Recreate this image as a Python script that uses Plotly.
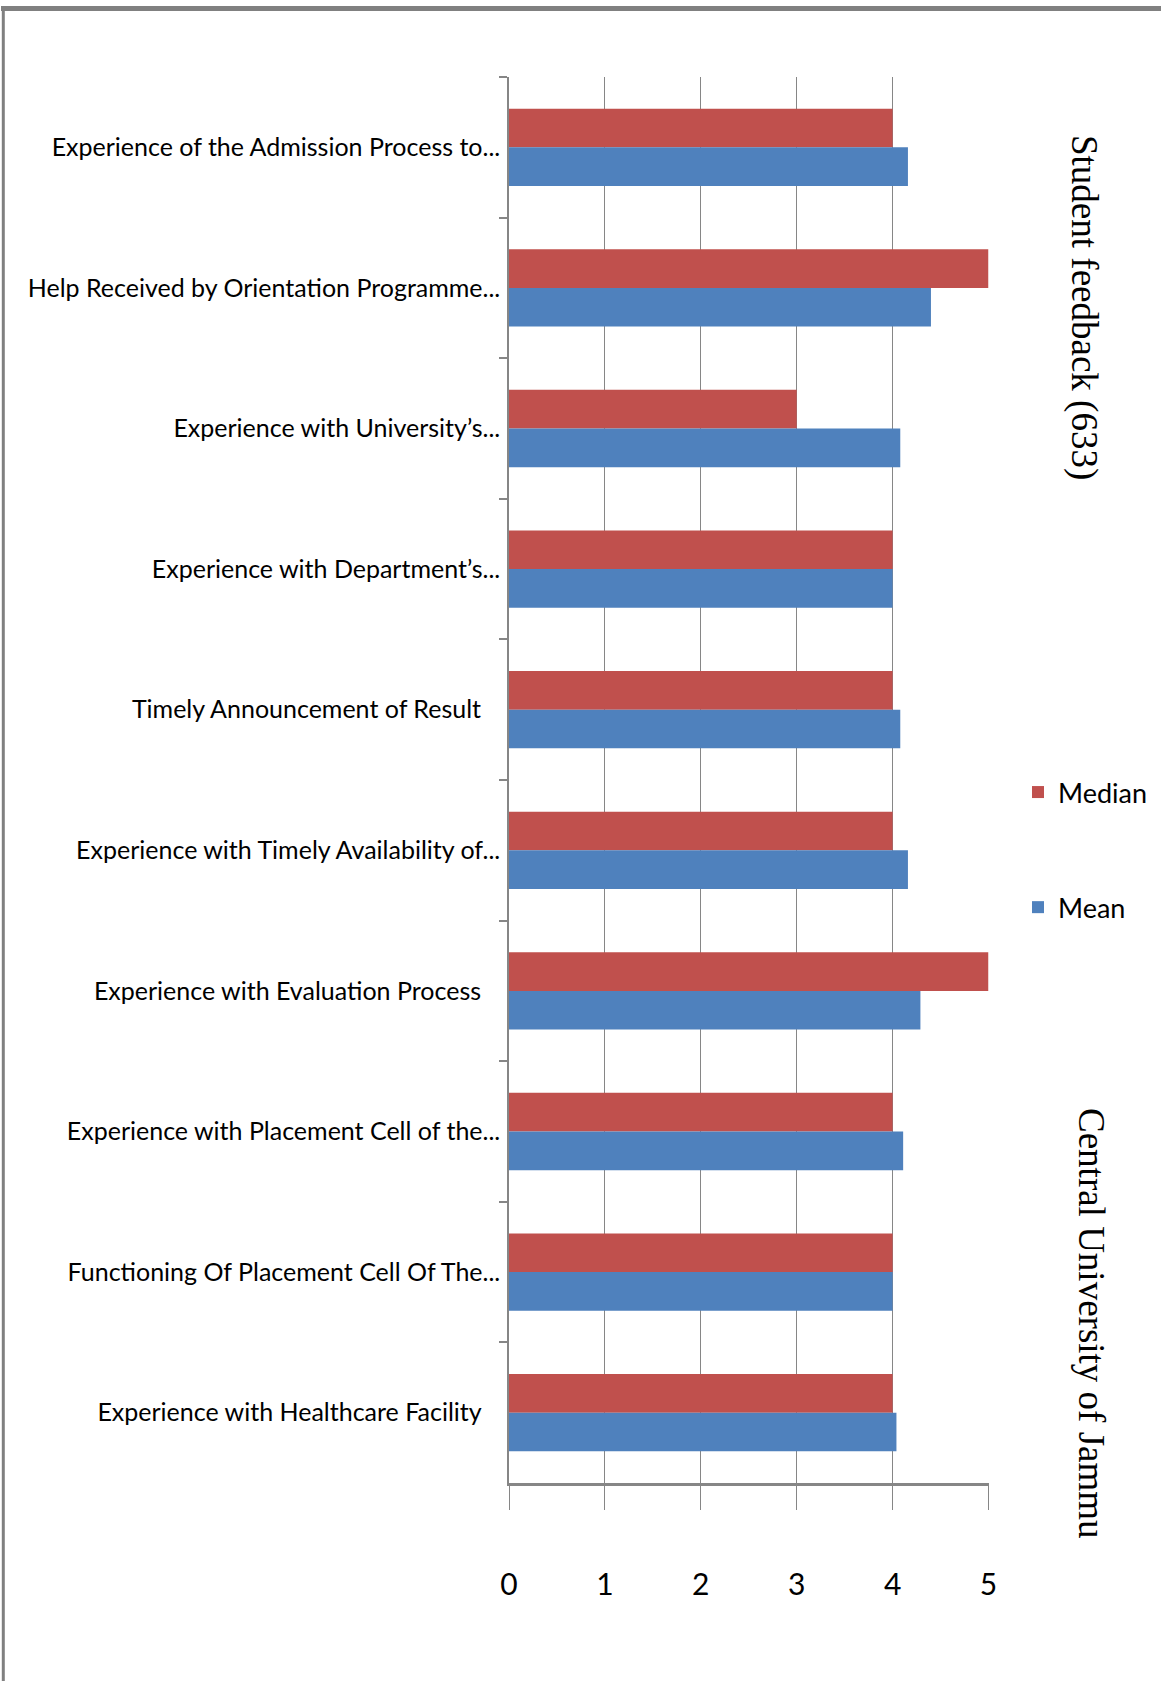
import plotly.graph_objects as go

# Student feedback - mean and median rating per item
categories = [
    "Experience of the Admission Process to...",
    "Help Received by Orientation Programme...",
    "Experience with University\u2019s...",
    "Experience with Department\u2019s...",
    "Timely Announcement of Result\u00a0\u00a0\u00a0",
    "Experience with Timely Availability of...",
    "Experience with Evaluation Process\u00a0\u00a0\u00a0",
    "Experience with Placement Cell of the...",
    "Functioning Of Placement Cell Of The...",
    "Experience with Healthcare Facility\u00a0\u00a0\u00a0",
]
median_vals = [4, 5, 3, 4, 4, 4, 5, 4, 4, 4]
mean_vals = [4.16, 4.40, 4.08, 4.00, 4.08, 4.16, 4.29, 4.11, 4.00, 4.04]
x_ticks = [0, 1, 2, 3, 4, 5]

W, H = 1161, 1681
LABEL_FONT = "Lato, Liberation Sans, sans-serif"
SERIF_FONT = "Liberation Serif, Times New Roman, serif"
GRID = "#868686"


def px_x(p):
    return p / W


def px_y(p):
    return 1 - p / H


fig = go.Figure()
fig.add_trace(
    go.Bar(
        y=categories,
        x=median_vals,
        orientation="h",
        name="Median",
        legendgroup="median",
        marker=dict(color="#C0504D", line=dict(width=0)),
    )
)
fig.add_trace(
    go.Bar(
        y=categories,
        x=mean_vals,
        orientation="h",
        name="Mean",
        legendgroup="mean",
        marker=dict(color="#4F81BD", line=dict(width=0)),
    )
)

fig.update_layout(
    width=W,
    height=H,
    margin=dict(l=0, r=0, t=0, b=0, autoexpand=False),
    paper_bgcolor="white",
    plot_bgcolor="white",
    barmode="group",
    bargap=0.45,
    bargroupgap=0,
    font=dict(family=LABEL_FONT, color="black", size=25),
    showlegend=True,
    legend=dict(
        x=px_x(1018),
        y=px_y(768),
        xanchor="left",
        yanchor="top",
        font=dict(family=LABEL_FONT, size=27, color="black"),
        traceorder="grouped",
        tracegroupgap=77,
        bgcolor="rgba(0,0,0,0)",
    ),
    xaxis=dict(
        domain=[px_x(509), px_x(988.5)],
        range=[0, 5],
        tickvals=x_ticks,
        automargin=False,
        showgrid=True,
        gridcolor=GRID,
        gridwidth=1,
        zeroline=False,
        showline=True,
        linecolor=GRID,
        linewidth=2.5,
        ticks="outside",
        ticklen=24,
        tickcolor=GRID,
        tickwidth=1,
        ticklabelstandoff=49,
        tickfont=dict(family=LABEL_FONT, size=30, color="black"),
        fixedrange=True,
    ),
    yaxis=dict(
        domain=[px_y(1483), px_y(77)],
        type="category",
        autorange="reversed",
        automargin=False,
        tickson="boundaries",
        ticks="outside",
        ticklen=8,
        tickcolor=GRID,
        tickwidth=1.5,
        showgrid=False,
        showline=True,
        linecolor=GRID,
        linewidth=1.5,
        ticklabelstandoff=2,
        tickfont=dict(family=LABEL_FONT, size=25, color="black"),
        fixedrange=True,
    ),
    annotations=[
        dict(
            text="Student feedback (633)",
            x=px_x(1084),
            y=px_y(307),
            xref="paper",
            yref="paper",
            xanchor="center",
            yanchor="middle",
            showarrow=False,
            textangle=90,
            font=dict(family=SERIF_FONT, size=37, color="black"),
        ),
        dict(
            text="Central University of Jammu",
            x=px_x(1092),
            y=px_y(1323),
            xref="paper",
            yref="paper",
            xanchor="center",
            yanchor="middle",
            showarrow=False,
            textangle=90,
            font=dict(family=SERIF_FONT, size=37, color="black"),
        ),
    ],
    shapes=[
        # page frame: top and left edges
        dict(type="line", xref="paper", yref="paper",
             x0=px_x(1), x1=1, y0=px_y(8.5), y1=px_y(8.5),
             line=dict(color="#808080", width=5)),
        dict(type="line", xref="paper", yref="paper",
             x0=px_x(3.3), x1=px_x(3.3), y0=0, y1=px_y(6),
             line=dict(color="#808080", width=3)),
    ],
)

fig.write_html(
    "out.html",
    config={"displayModeBar": False},
    post_script="document.body.style.margin='0';",
)
